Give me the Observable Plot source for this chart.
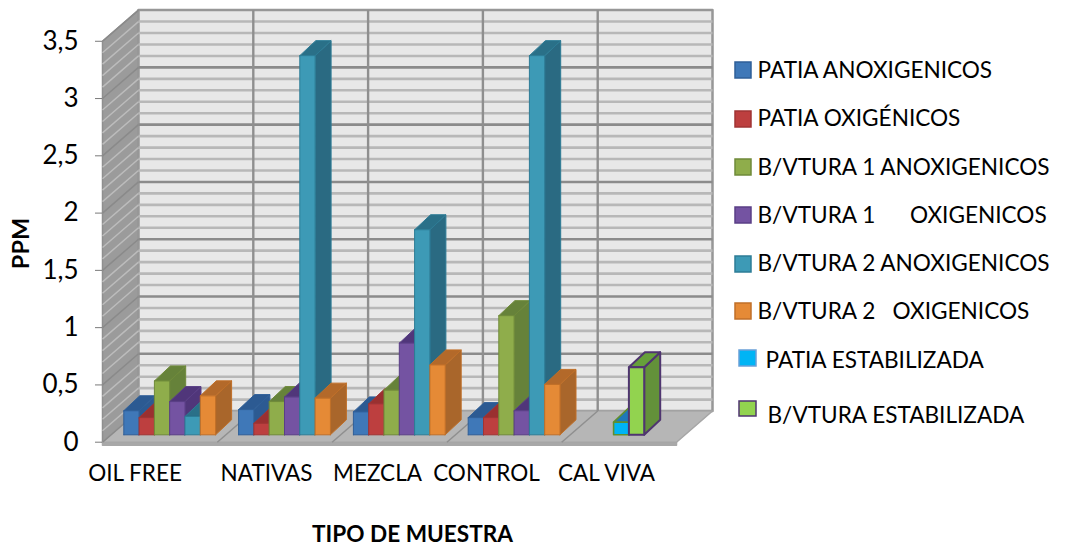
<!DOCTYPE html>
<html lang="es">
<head>
<meta charset="utf-8">
<style>html,body{margin:0;padding:0;background:#fff}svg{display:block}</style>
<script src="https://cdn.jsdelivr.net/npm/d3@7"></script>
<script src="https://cdn.jsdelivr.net/npm/@observablehq/plot@0.6"></script>
</head>
<body>
<script>
// ---------- data (ppm) ----------
const categories = ["OIL FREE", "NATIVAS", "MEZCLA", "CONTROL", "CAL VIVA"];
const seriesNames = [
  "PATIA ANOXIGENICOS",
  "PATIA OXIGÉNICOS",
  "B/VTURA 1 ANOXIGENICOS",
  "B/VTURA 1 \u00a0\u00a0\u00a0\u00a0\u00a0OXIGENICOS",
  "B/VTURA 2 ANOXIGENICOS",
  "B/VTURA 2 \u00a0\u00a0OXIGENICOS",
  "PATIA ESTABILIZADA",
  "B/VTURA ESTABILIZADA"
];
const patiaAnox  = [0.21, 0.22, 0.20, 0.15, null];
const patiaOxi   = [0.15, 0.10, 0.27, 0.15, null];
const bv1Anox    = [0.47, 0.29, 0.39, 1.04, null];
const bv1Oxi     = [0.29, 0.33, 0.80, 0.21, null];
const bv2Anox    = [0.16, 3.31, 1.79, 3.31, null];
const bv2Oxi     = [0.34, 0.32, 0.61, 0.44, null];
const patiaEstab = [null, null, null, null, 0.11];
const bvEstab    = [null, null, null, null, 0.59];
const seriesValues = [patiaAnox, patiaOxi, bv1Anox, bv1Oxi, bv2Anox, bv2Oxi, patiaEstab, bvEstab];
const yTicks = [0, 0.5, 1, 1.5, 2, 2.5, 3, 3.5];

// ---------- layout and styles ----------
const seriesSlot = [0, 1, 2, 3, 4, 5, 2, 3];
const frontColor = ["#3f78b8", "#bd3f3f", "#8fad4b", "#7453a2", "#3d9ab6", "#e58a36", "#00b4f5", "#92d34f"];
const sideColor  = ["#2c5a92", "#8f2f2f", "#66823a", "#50367a", "#2a6a82", "#a9662b", "#2f7fa8", "#63913a"];
const topColor   = ["#2c5a92", "#9a3030", "#66823a", "#50367a", "#2a7088", "#b3692a", "#1f78b8", "#66a03a"];
const edgeColor  = ["#2f5f98", "#a03434", "#6f8a3a", "#5a3f86", "#2d7c96", "#c06f28", "#5f8f30", "#4f3570"];
const edgeWidth  = [1, 1, 1, 1, 1, 1, 1.6, 2];
const catPx = 114.8, ppmDepth = 0.272, catDepth = 36 / catPx;
const barDepthX = 16 / catPx, barDepthY = 0.131, barBase = 0.0646;
const barStart = 21.3 / catPx, barW = 15.3 / catPx;
const ux = px => (px - 102) / catPx;
const uy = px => (441.7 - px) / 114.55;
const labelCenter = [134.5, 266, 377, 486, 606];
const labelY = 473;
const legendRows = [
  {swatch: [735, 751, 62, 78],  tx: 757, ty: 70},
  {swatch: [735, 751, 111, 127], tx: 757, ty: 118},
  {swatch: [735, 751, 159, 175], tx: 757, ty: 167},
  {swatch: [735, 751, 207, 223], tx: 757, ty: 215},
  {swatch: [735, 751, 256, 272], tx: 757, ty: 263},
  {swatch: [735, 751, 303, 319], tx: 757, ty: 311},
  {swatch: [739, 756, 350, 366], tx: 765, ty: 360},
  {swatch: [739, 756, 401, 416], tx: 767, ty: 415}
];

// ---------- polygons in data coordinates ----------
let polyId = 0;
const poly = (points, fill, stroke, width) => {
  const id = polyId++;
  return [...points, points[0]].map(([x, y]) => ({x, y, id, fill, stroke, width}));
};
const floorPoly = poly([[0, 0], [5, 0], [5 + catDepth, ppmDepth], [catDepth, ppmDepth]], "#b6b6b6", "#a6a6a6");
const floorEdge = poly([[0, -0.027], [5, -0.027], [5, 0], [0, 0]], "#a8a8a8", "#a8a8a8");
const backWall = poly([[catDepth, ppmDepth], [5 + catDepth, ppmDepth], [5 + catDepth, 3.5 + ppmDepth], [catDepth, 3.5 + ppmDepth]], "#e8e8e8", "#979797", 2.5);
const sideWall = poly([[0, 0], [catDepth, ppmDepth], [catDepth, 3.5 + ppmDepth], [0, 3.5]], "#9b9b9b", "#8f8f8f");

const barFaces = categories.flatMap((_, c) =>
  seriesValues
    .map((values, s) => ({s, v: values[c]}))
    .filter(d => d.v != null)
    .sort((a, b) => seriesSlot[a.s] - seriesSlot[b.s])
    .flatMap(({s, v}) => {
      const x0 = c + barStart + seriesSlot[s] * barW, x1 = x0 + barW;
      const b = barBase, t = barBase + v, e = edgeColor[s], w = edgeWidth[s];
      return [
        ...poly([[x1, b], [x1 + barDepthX, b + barDepthY], [x1 + barDepthX, t + barDepthY], [x1, t]], sideColor[s], e, w),
        ...poly([[x0, t], [x1, t], [x1 + barDepthX, t + barDepthY], [x0 + barDepthX, t + barDepthY]], topColor[s], e, w),
        ...poly([[x0, b], [x1, b], [x1, t], [x0, t]], frontColor[s], e, w)
      ];
    })
);

const minorTicks = d3.range(0, 35).map(i => i / 10).filter(v => Math.round(v * 10) % 5 !== 0);
const dividers = d3.range(1, 5);
const polyMark = data => Plot.line(data, {x: "x", y: "y", z: "id", fill: "fill", stroke: "stroke", strokeWidth: d => d.width ?? 1.5, curve: "linear"});
const wallLine = (vals, stroke, strokeWidth) => Plot.link(vals, {
  x1: catDepth, x2: 5 + catDepth, y1: v => v + ppmDepth, y2: v => v + ppmDepth, stroke, strokeWidth
});
const sideLine = (vals, stroke, strokeWidth) => Plot.link(vals, {
  x1: 0, x2: catDepth, y1: v => v, y2: v => v + ppmDepth, stroke, strokeWidth
});

const chart = Plot.plot({
  width: 1066, height: 546,
  marginLeft: 102, marginRight: 0, marginTop: 8.7, marginBottom: 104.3,
  x: {domain: [0, (1066 - 102) / catPx], axis: null},
  y: {domain: [0, 3.78]},
  color: {type: "identity"},
  style: {fontFamily: "Lato, sans-serif", background: "#fff", color: "#000"},
  marks: [
    polyMark([...floorEdge, ...sideWall, ...backWall, ...floorPoly]),
    sideLine(minorTicks, "#bcbcbc", 1.5),
    sideLine(yTicks, "#8a8a8a", 1.5),
    wallLine(minorTicks, "#b8b8b8", 2.6),
    wallLine(yTicks.slice(1, -1), "#8b8b8b", 2.6),
    Plot.link(dividers, {x1: d => d + catDepth, x2: d => d + catDepth, y1: ppmDepth, y2: 3.5 + ppmDepth, stroke: "#8f8f8f", strokeWidth: 2.4}),
    Plot.link(dividers, {x1: d => d, x2: d => d + catDepth, y1: 0, y2: ppmDepth, stroke: "#8f8f8f", strokeWidth: 1.5}),
    polyMark(barFaces),
    Plot.axisY(yTicks, {
      anchor: "left", label: null, tickSize: 7, tickPadding: 17,
      stroke: "#7a7a7a", fill: "#000", fontSize: 26,
      tickFormat: d => String(d).replace(".", ",")
    }),
    Plot.text(categories, {
      x: (_, i) => ux(labelCenter[i]), y: uy(labelY), text: d => d, fontSize: 22.5, fill: "#000"
    }),
    Plot.text(["PPM"], {x: ux(21), y: uy(243), text: d => d, rotate: -90, fontSize: 23.5, fontWeight: 700, fill: "#000"}),
    Plot.text(["TIPO DE MUESTRA"], {x: ux(412), y: uy(534), text: d => d, fontSize: 22.6, fontWeight: 700, fill: "#000"}),
    Plot.rect(seriesNames, {
      x1: (_, i) => ux(legendRows[i].swatch[0]), x2: (_, i) => ux(legendRows[i].swatch[1]),
      y1: (_, i) => uy(legendRows[i].swatch[2]), y2: (_, i) => uy(legendRows[i].swatch[3]),
      fill: (_, i) => frontColor[i], stroke: (_, i) => i === 6 ? "#6aa0d8" : edgeColor[i], strokeWidth: 1.5
    }),
    Plot.text(seriesNames, {
      x: (_, i) => ux(legendRows[i].tx), y: (_, i) => uy(legendRows[i].ty),
      text: d => d, textAnchor: "start", fontSize: 22.6, fill: "#000"
    })
  ]
});
document.body.appendChild(chart);
</script>
</body>
</html>
